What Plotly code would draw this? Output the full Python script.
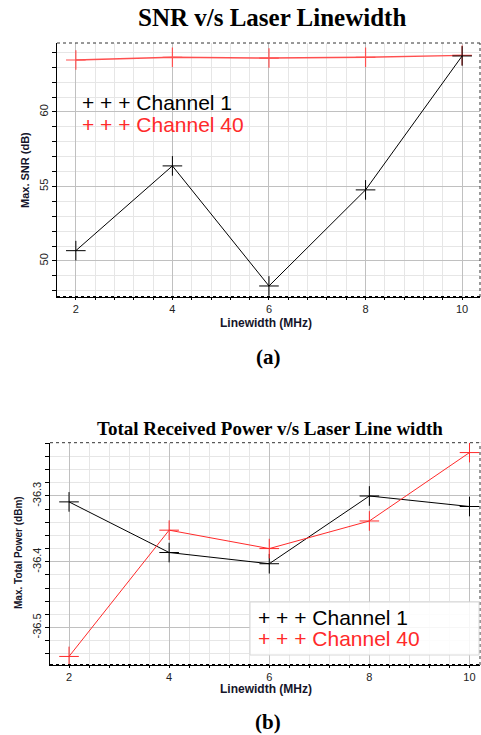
import plotly.graph_objects as go

# ---------------- data ----------------
linewidth = [2, 4, 6, 8, 10]

snr_ch1 = [50.69, 56.38, 48.32, 54.77, 63.76]
snr_ch40 = [63.49, 63.67, 63.62, 63.67, 63.80]

pow_ch1 = [-36.309, -36.386, -36.403, -36.300, -36.316]
pow_ch40 = [-36.544, -36.352, -36.380, -36.338, -36.234]

x_ticks = [2, 4, 6, 8, 10]
snr_ticks = [50, 55, 60]
pow_ticks = [-36.5, -36.4, -36.3]
pow_tick_labels = ["-36.5", "-36.4", "-36.3"]

W, H = 481, 735


def px_x(v):
    return v / W


def px_y(v):
    return 1 - v / H


fig = go.Figure()

RED_TOP = "#ff5050"
RED = "#ff2a2a"

marker_common = dict(symbol="cross-thin", size=14)

fig.add_trace(go.Scatter(x=linewidth, y=snr_ch40, mode="lines+markers",
                         line=dict(color=RED_TOP, width=1.4),
                         marker=dict(**marker_common, color=RED_TOP,
                                     line=dict(color=RED_TOP, width=1.2)),
                         xaxis="x", yaxis="y", showlegend=False))
fig.add_trace(go.Scatter(x=linewidth, y=snr_ch1, mode="lines+markers",
                         line=dict(color="black", width=1),
                         marker=dict(**marker_common, color="black",
                                     line=dict(color="black", width=1)),
                         xaxis="x", yaxis="y", showlegend=False))

fig.add_trace(go.Scatter(x=linewidth, y=pow_ch1, mode="lines+markers",
                         line=dict(color="black", width=1),
                         marker=dict(**marker_common, color="black",
                                     line=dict(color="black", width=1)),
                         xaxis="x2", yaxis="y2", showlegend=False))
fig.add_trace(go.Scatter(x=linewidth, y=pow_ch40, mode="lines+markers",
                         line=dict(color=RED, width=1),
                         marker=dict(**marker_common, color=RED,
                                     line=dict(color=RED, width=1)),
                         xaxis="x2", yaxis="y2", showlegend=False))

tickfont = dict(family="Liberation Sans, Arial", size=11, color="#222")
ytickfont = dict(family="Liberation Sans, Arial", size=11, color="#222")

axis_common = dict(showgrid=True, gridcolor="#c0c0c0", gridwidth=1,
                   zeroline=False, ticks="outside", tickcolor="black",
                   showline=True, linecolor="black", linewidth=1)

fig.update_layout(
    width=W, height=H,
    margin=dict(l=0, r=0, t=0, b=0),
    paper_bgcolor="white", plot_bgcolor="white",
    xaxis=dict(**axis_common, ticklen=2, domain=[px_x(57), px_x(480)],
               anchor="y", range=[1.61, 10.37], tickvals=x_ticks,
               tickfont=tickfont,
               minor=dict(dtick=0.4, tick0=2, showgrid=True, gridcolor="#e6e6e6",
                          ticks="outside", ticklen=2, tickcolor="black")),
    yaxis=dict(**axis_common, ticklen=4, domain=[px_y(297), px_y(43)],
               anchor="x", range=[47.58, 64.63], tickvals=snr_ticks,
               tickangle=-90, tickfont=ytickfont,
               minor=dict(dtick=1, tick0=50, showgrid=True, gridcolor="#e6e6e6",
                          ticks="outside", ticklen=4, tickcolor="black")),
    xaxis2=dict(**axis_common, ticklen=2, domain=[px_x(50), px_x(480)],
                anchor="y2", range=[1.62, 10.21], tickvals=x_ticks,
                tickfont=tickfont,
                minor=dict(dtick=0.4, tick0=2, showgrid=True, gridcolor="#e6e6e6",
                           ticks="outside", ticklen=2, tickcolor="black")),
    yaxis2=dict(**axis_common, ticklen=4, domain=[px_y(665), px_y(442.7)],
                anchor="x2", range=[-36.557, -36.219], tickvals=pow_ticks,
                ticktext=pow_tick_labels, tickangle=-90, tickfont=ytickfont,
                minor=dict(dtick=0.02, tick0=-36.5, showgrid=True,
                           gridcolor="#e6e6e6", ticks="outside", ticklen=4,
                           tickcolor="black")),
)

shapes = []
for xr, yr in (("x domain", "y domain"), ("x2 domain", "y2 domain")):
    shapes.append(dict(type="line", xref=xr, yref=yr, x0=0, x1=1, y0=1, y1=1,
                       line=dict(color="#333", width=1, dash="dot")))
    shapes.append(dict(type="line", xref=xr, yref=yr, x0=1, x1=1, y0=0, y1=1,
                       line=dict(color="#333", width=1, dash="dot")))
    shapes.append(dict(type="line", xref=xr, yref=yr, x0=0, x1=1, y0=0, y1=0,
                       line=dict(color="black", width=2, dash="dot")))
# legend box of the lower chart
shapes.append(dict(type="rect", xref="paper", yref="paper",
                   x0=px_x(250), x1=px_x(479), y0=px_y(655), y1=px_y(602),
                   fillcolor="rgba(255,255,255,0.85)",
                   line=dict(color="#d8d8d8", width=1), layer="above"))
fig.update_layout(shapes=shapes)

serif_bold = "Liberation Serif, Times New Roman"
sans = "Liberation Sans, Arial"

ann = []


def add_text(text, x, y, size, family, color="black", bold=False, angle=0,
             xanchor="center"):
    ann.append(dict(text=f"<b>{text}</b>" if bold else text,
                    xref="paper", yref="paper", x=px_x(x), y=px_y(y),
                    xanchor=xanchor, yanchor="middle", showarrow=False,
                    textangle=angle,
                    font=dict(family=family, size=size, color=color)))


# titles
add_text("SNR v/s Laser Linewidth", 272, 18, 25, serif_bold, bold=True)
add_text("Total Received Power v/s Laser Line width", 270, 428, 19, serif_bold,
         bold=True)
add_text("(a)", 268, 357, 21, serif_bold, bold=True)
add_text("(b)", 268, 722, 21, serif_bold, bold=True)

# axis titles
add_text("Linewidth (MHz)", 266, 323, 12, sans, color="#15152a", bold=True)
add_text("Linewidth (MHz)", 266, 689, 12, sans, color="#15152a", bold=True)
add_text("Max. SNR (dB)", 25, 170, 11, sans, color="#15152a", bold=True,
         angle=-90)
add_text("Max. Total Power (dBm)", 18, 553, 10, sans, color="#15152a",
         bold=True, angle=-90)

# legends
add_text("+ + + Channel 1", 80, 102, 21, sans, color="black", xanchor="left")
add_text("+ + + Channel 40", 80, 125, 21, sans, color=RED, xanchor="left")
add_text("+ + + Channel 1", 256, 617, 21, sans, color="black", xanchor="left")
add_text("+ + + Channel 40", 256, 638, 21, sans, color=RED, xanchor="left")

fig.update_layout(annotations=ann)

fig.write_html("out.html",
               config={"displayModeBar": False},
               post_script="document.body.style.margin='0';"
                           "document.body.style.overflow='hidden';")
